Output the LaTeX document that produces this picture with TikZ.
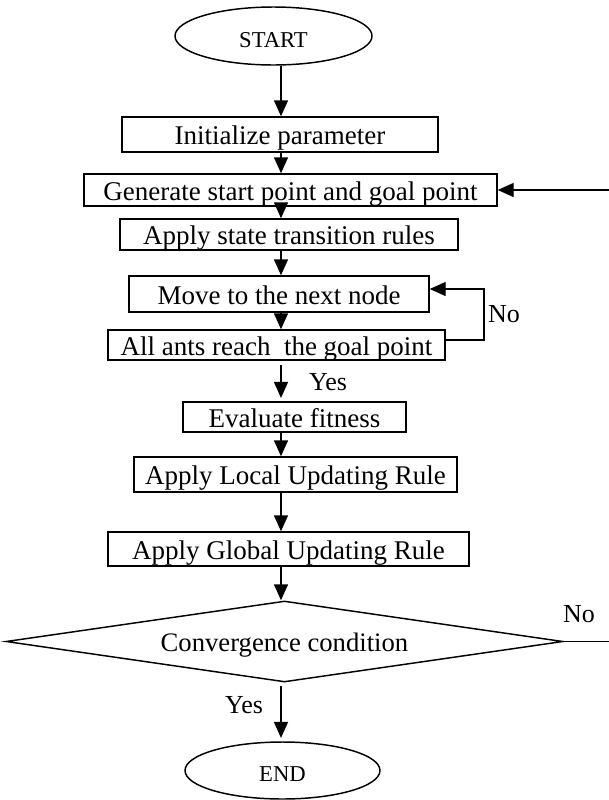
\documentclass[tikz,border=0pt]{standalone}
\usepackage{fontspec}
\setmainfont{Liberation Serif}
\usetikzlibrary{shapes.geometric,arrows.meta}

\begin{document}
\begin{tikzpicture}[x=0.75pt,y=-0.75pt,line width=1.1pt,
  >={Triangle[length=12pt,width=10.5pt]},
  caixa/.style={draw,rectangle,inner sep=0pt,font=\fontsize{20.25}{23}\selectfont,text height=15.4pt,text depth=0pt},
  terminal/.style={draw,ellipse,inner sep=0pt,font=\fontsize{17}{20}\selectfont,text height=16.5pt,text depth=0pt},
  decisao/.style={draw,diamond,aspect=6.9,inner sep=0pt,font=\fontsize{20}{23}\selectfont,text height=15pt,text depth=0pt},
  rotulo/.style={font=\fontsize{19.5}{22}\selectfont,anchor=base}]
  \useasboundingbox (0,0) rectangle (608,800);
  % inicio e fim
  \node[terminal,minimum width=147.75pt,minimum height=43.5pt] (start) at (273.5,36) {START};
  \node[terminal,minimum width=146.25pt,minimum height=42.75pt] (end) at (282.5,770.5) {END};
  % caixas
  \node[caixa,minimum width=237pt,minimum height=26.25pt] (init) at (280,134.5) {Initialize parameter};
  \node[caixa,minimum width=309.75pt,minimum height=24pt] (gen) at (290.5,190) {Generate start point and goal point};
  \node[caixa,minimum width=253.5pt,minimum height=23.25pt] (rule) at (289,234.5) {Apply state transition rules};
  \node[caixa,minimum width=225pt,minimum height=27pt] (move) at (279,294) {Move to the next node};
  \node[caixa,minimum width=252.75pt,minimum height=22.5pt] (reach) at (276.5,345) {All ants reach~ the goal point};
  \node[caixa,minimum width=167.25pt,minimum height=22.5pt] (fit) at (294.5,417) {Evaluate fitness};
  \node[caixa,minimum width=242.25pt,minimum height=26.25pt] (local) at (295.5,474.5) {Apply Local Updating Rule};
  \node[caixa,minimum width=270.75pt,minimum height=25.5pt] (global) at (288.5,549) {Apply Global Updating Rule};
  % decisao
  \node[decisao,minimum width=417.75pt,minimum height=60.75pt] (dec) at (284.5,641.5) {Convergence condition};
  % setas
  \coordinate (axis) at (281,0);
  \foreach \a/\b in {start/init,init/gen,gen/rule,rule/move,move/reach,fit/local,local/global,global/dec}
    \draw[->] (\a.south -| axis) -- (\b.north -| axis);
  \draw[->,shorten <=3.5pt,shorten >=2.5pt] (reach.south -| axis) -- (fit.north -| axis);
  \draw[->,shorten <=2.5pt,shorten >=2.5pt] (dec.south -| axis) -- (end.north -| axis);
  % lacos
  \coordinate (loopx) at (484,0);
  \coordinate (edgex) at (612,0);
  \coordinate (noA) at ([yshift=3.75pt]reach.east);
  \coordinate (noB) at ([yshift=3.75pt]move.east);
  \draw[->] (noA) -- (noA -| loopx) -- (noB -| loopx) -- (noB);
  \draw[->] (dec.east) -- (dec.east -| edgex) -- (gen.east -| edgex) -- (gen.east);
  % rotulos
  \node[rotulo] (yes1) at (328,390) {Yes};
  \node[rotulo] (yes2) at (244,713) {Yes};
  \node[rotulo] (no1) at (504,322) {No};
  \node[rotulo] (no2) at (579,622) {No};
\end{tikzpicture}
\end{document}
